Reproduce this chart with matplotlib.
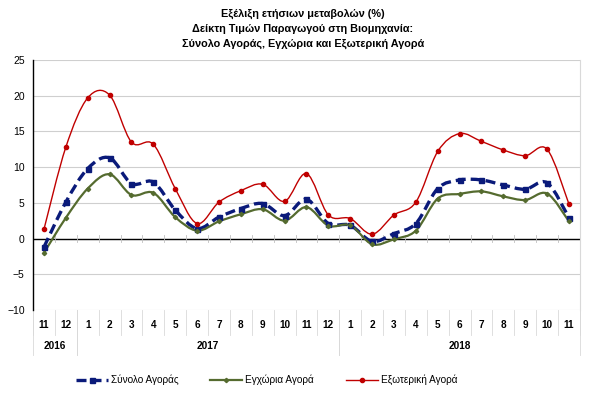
import numpy as np
from matplotlib import pyplot as plt
from matplotlib.path import Path
from matplotlib.patches import PathPatch
from matplotlib.lines import Line2D
import matplotlib.transforms as mtransforms

plt.rcParams['font.family'] = ['Liberation Sans', 'DejaVu Sans']

months = ["11", "12", "1", "2", "3", "4", "5", "6", "7", "8", "9", "10", "11", "12",
          "1", "2", "3", "4", "5", "6", "7", "8", "9", "10", "11"]
years = ["2016", "2017", "2018"]
year_spans = [(0, 2), (2, 14), (14, 25)]

total = [-1.2, 5.1, 9.8, 11.3, 7.7, 7.9, 4.0, 1.4, 3.0, 4.2, 4.9, 3.2, 5.5,
         2.1, 1.85, -0.4, 0.7, 2.1, 7.0, 8.2, 8.2, 7.5, 6.9, 7.8, 2.9]
domestic = [-2.0, 2.9, 7.0, 9.0, 6.1, 6.4, 3.0, 1.1, 2.4, 3.4, 4.1, 2.5, 4.4,
            1.8, 1.85, -0.8, -0.1, 1.1, 5.6, 6.25, 6.6, 5.9, 5.4, 6.3, 2.4]
foreign = [1.3, 12.8, 19.7, 20.1, 13.5, 13.2, 7.0, 2.1, 5.1, 6.7, 7.6, 5.2, 9.1,
           3.3, 2.8, 0.6, 3.3, 5.1, 12.2, 14.7, 13.6, 12.4, 11.6, 12.5, 4.8]

labels = ["Σύνολο Αγοράς", "Εγχώρια Αγορά", "Εξωτερική Αγορά"]
colors = ["#0A1A7A", "#556B2F", "#C00000"]


def smooth_path(x, y):
    # excel-like smoothed line: catmull-rom turned into bezier segments
    x = np.asarray(x, float)
    y = np.asarray(y, float)
    verts = [(x[0], y[0])]
    codes = [Path.MOVETO]
    n = len(x)
    for i in range(n - 1):
        p0 = (x[max(i - 1, 0)], y[max(i - 1, 0)])
        p1 = (x[i], y[i])
        p2 = (x[i + 1], y[i + 1])
        p3 = (x[min(i + 2, n - 1)], y[min(i + 2, n - 1)])
        c1 = (p1[0] + (p2[0] - p0[0]) / 6, p1[1] + (p2[1] - p0[1]) / 6)
        c2 = (p2[0] - (p3[0] - p1[0]) / 6, p2[1] - (p3[1] - p1[1]) / 6)
        verts += [c1, c2, p2]
        codes += [Path.CURVE4] * 3
    return Path(verts, codes)


fig = plt.figure(figsize=(6.06, 4.03), dpi=100)
ax = fig.add_axes([0.0545, 0.231, 0.9025, 0.62])

x = np.arange(len(months))
series = [total, domestic, foreign]
styles = [
    dict(ls=(0, (3, 1.5)), lw=2.4, marker="s", ms=3.6),
    dict(ls="-", lw=1.6, marker="D", ms=2.2),
    dict(ls="-", lw=1.0, marker="o", ms=3.0),
]
handles = []
for vals, col, st, lab in zip(series, colors, styles, labels):
    patch = PathPatch(smooth_path(x, vals), fill=False, edgecolor=col,
                      lw=st["lw"], linestyle=st["ls"], zorder=3)
    ax.add_patch(patch)
    ax.plot(x, vals, ls="none", marker=st["marker"], ms=st["ms"], color=col, zorder=4)
    handles.append(Line2D([], [], color=col, lw=st["lw"], linestyle=st["ls"],
                          marker=st["marker"], ms=st["ms"]))

ax.set_xlim(-0.5, len(months) - 0.5)
ax.set_ylim(-10, 25)
ax.set_yticks(range(-10, 26, 5))
ax.yaxis.grid(True, color="#CFCFCF", lw=0.8)
ax.set_axisbelow(True)
ax.tick_params(axis="y", length=0, labelsize=7.5, pad=6)
ax.set_xticks([])
for s in ["top", "bottom"]:
    ax.spines[s].set_visible(False)
ax.spines["right"].set_color("#D9D9D9")
ax.spines["left"].set_color("black")
ax.spines["left"].set_linewidth(1.0)
ax.axhline(0, color="black", lw=1.0, zorder=2)
for b in np.arange(-0.5, len(months), 1.0):
    ax.plot([b, b], [-0.45, 0.45], color="#BFBFBF", lw=0.6, zorder=2)

# multi level category labels under the chart
trans = mtransforms.blended_transform_factory(ax.transData, ax.transAxes)
for i, m in enumerate(months):
    ax.text(i, -0.06, m, transform=trans, ha="center", va="center",
            fontsize=7.2, fontweight="bold")
for b in np.arange(-0.5, len(months) + 0.5, 1.0):
    ax.plot([b, b], [0, -0.1], transform=trans, color="#D9D9D9", lw=0.6, clip_on=False)
for (a, e), yr in zip(year_spans, years):
    ax.text((a + e - 1) / 2, -0.145, yr, transform=trans, ha="center", va="center",
            fontsize=7.2, fontweight="bold")
    for b in (a - 0.5, e - 0.5):
        ax.plot([b, b], [0, -0.18], transform=trans, color="#D9D9D9", lw=0.6, clip_on=False)

fig.text(0.5, 0.965, "Εξέλιξη ετήσιων μεταβολών (%)", ha="center", va="center",
         fontsize=7.8, fontweight="bold")
fig.text(0.5, 0.928, "Δείκτη Τιμών Παραγωγού στη Βιομηχανία:", ha="center", va="center",
         fontsize=7.8, fontweight="bold")
fig.text(0.5, 0.891, "Σύνολο Αγοράς, Εγχώρια και Εξωτερική Αγορά", ha="center", va="center",
         fontsize=7.8, fontweight="bold")

fig.legend(handles, labels, loc="center", bbox_to_anchor=(0.44, 0.057), ncol=3,
           frameon=False, fontsize=7.2, handlelength=3.2, handletextpad=0.3,
           columnspacing=3.2)

fig.savefig("out.png", dpi=100)
